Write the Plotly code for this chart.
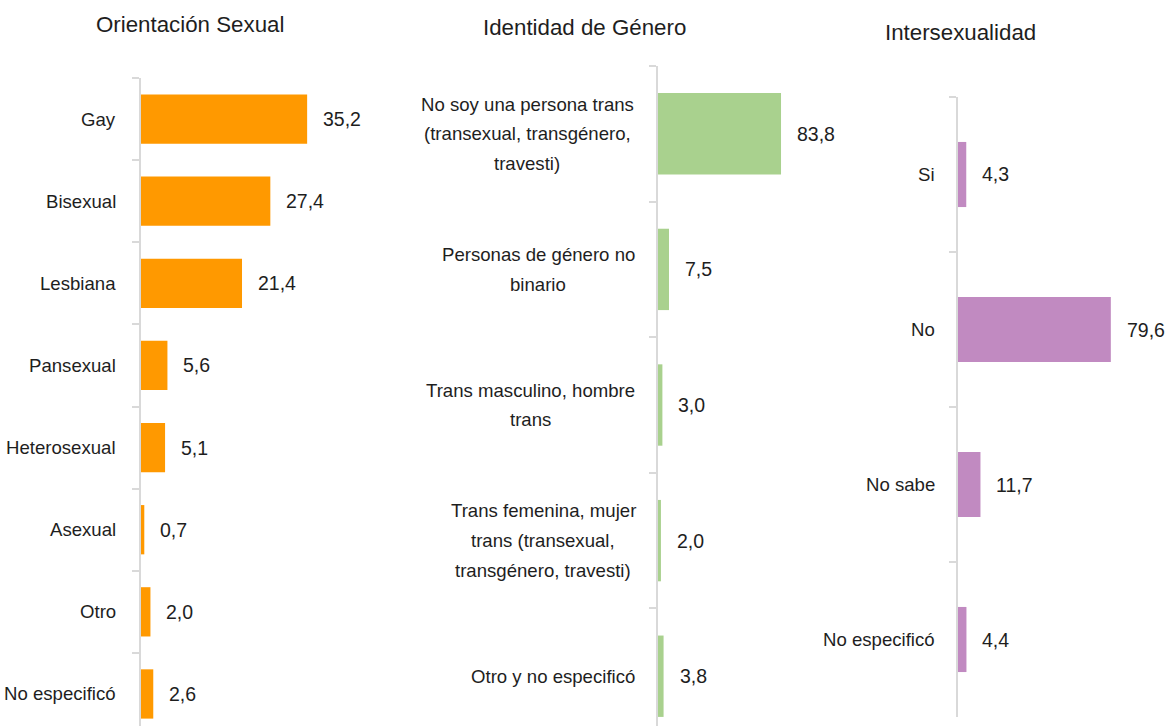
import plotly.graph_objects as go

# ---------------- data ----------------
orient_cats = ["Gay", "Bisexual", "Lesbiana", "Pansexual", "Heterosexual",
               "Asexual", "Otro", "No especificó"]
orient_vals = [35.2, 27.4, 21.4, 5.6, 5.1, 0.7, 2.0, 2.6]

gender_cats = ["No soy una persona trans<br>(transexual, transgénero,<br>travesti)",
               "Personas de género no<br>binario",
               "Trans masculino, hombre<br>trans",
               "Trans femenina, mujer<br>trans (transexual,<br>transgénero, travesti)",
               "Otro y no especificó"]
gender_vals = [83.8, 7.5, 3.0, 2.0, 3.8]

inter_cats = ["Si", "No", "No sabe", "No especificó"]
inter_vals = [4.3, 79.6, 11.7, 4.4]

titles = ["Orientación Sexual", "Identidad de Género", "Intersexualidad"]

# ---------------- style ----------------
W, H = 1169, 726
FONT = "Liberation Sans, Arial, sans-serif"
TXT = "#1e1e1e"
AXC = "#D9D9D9"
LAB_SIZE = 18.6
VAL_SIZE = 19.5
TITLE_SIZE = 22.3
LINE_STEP = 29.8  # px between lines of a wrapped label

# centre offsets (px from axis line) of the wrapped label blocks in panel 2
gender_label_centres = [-131, -120, -128, -115, -105]

panels = [
    dict(cats=orient_cats, vals=orient_vals, color="#FF9900",
         xdom=(141, 380), xmax=239 / 4.72, ydom=(726, 78), yrange=[7.39, -0.5],
         width=0.6, lab_shift=-23, centres=None, title=titles[0], tpos=(190, 25)),
    dict(cats=gender_cats, vals=gender_vals, color="#A9D18E",
         xdom=(658, 830), xmax=172 / 1.468, ydom=(726, 66), yrange=[4.367, -0.5],
         width=0.6, lab_shift=-21, centres=gender_label_centres,
         title=titles[1], tpos=(584, 28)),
    dict(cats=inter_cats, vals=inter_vals, color="#C18AC1",
         xdom=(958, 1140), xmax=182 / 1.92, ydom=(717, 97), yrange=[3.5, -0.5],
         width=0.42, lab_shift=-21, centres=None, title=titles[2], tpos=(960, 32)),
]

fig = go.Figure()
annotations = []
layout = {}

for i, p in enumerate(panels, start=1):
    xa = "x" if i == 1 else f"x{i}"
    ya = "y" if i == 1 else f"y{i}"
    fig.add_trace(go.Bar(
        x=p["vals"], y=p["cats"], orientation="h",
        marker=dict(color=p["color"], line=dict(width=0)),
        width=p["width"], xaxis=xa, yaxis=ya, hoverinfo="skip",
        showlegend=False,
    ))
    xkey = "xaxis" if i == 1 else f"xaxis{i}"
    ykey = "yaxis" if i == 1 else f"yaxis{i}"
    layout[xkey] = dict(domain=[p["xdom"][0] / W, p["xdom"][1] / W],
                        range=[0, p["xmax"]], visible=False, anchor=ya,
                        fixedrange=True)
    layout[ykey] = dict(domain=[1 - p["ydom"][0] / H, 1 - p["ydom"][1] / H],
                        type="category", categoryorder="array",
                        categoryarray=p["cats"], range=p["yrange"],
                        anchor=xa, showline=True, linecolor=AXC, linewidth=1.5,
                        ticks="outside", tickson="boundaries", ticklen=7,
                        tickcolor=AXC, tickwidth=1.5, showticklabels=False,
                        showgrid=False, zeroline=False, fixedrange=True)
    for k, (c, v) in enumerate(zip(p["cats"], p["vals"])):
        if p["centres"] is None:
            annotations.append(dict(
                xref=xa, yref=ya, x=0, y=c, text=c, showarrow=False,
                xanchor="right", yanchor="middle", xshift=p["lab_shift"],
                font=dict(family=FONT, size=LAB_SIZE, color=TXT)))
        else:
            lines = c.split("<br>")
            n = len(lines)
            for j, line in enumerate(lines):
                annotations.append(dict(
                    xref=xa, yref=ya, x=0, y=c, text=line, showarrow=False,
                    xanchor="center", yanchor="middle",
                    xshift=p["centres"][k],
                    yshift=((n - 1) / 2 - j) * LINE_STEP,
                    font=dict(family=FONT, size=LAB_SIZE, color=TXT)))
        annotations.append(dict(
            xref=xa, yref=ya, x=v, y=c, text=f"{v:.1f}".replace(".", ","),
            showarrow=False, xanchor="left", yanchor="middle", xshift=14,
            font=dict(family=FONT, size=VAL_SIZE, color=TXT)))
    annotations.append(dict(
        xref="paper", yref="paper", x=p["tpos"][0] / W, y=1 - p["tpos"][1] / H,
        text=p["title"], showarrow=False, xanchor="center", yanchor="middle",
        font=dict(family=FONT, size=TITLE_SIZE, color=TXT)))

fig.update_layout(
    width=W, height=H,
    margin=dict(l=0, r=0, t=0, b=0),
    paper_bgcolor="white", plot_bgcolor="white",
    font=dict(family=FONT, color=TXT),
    annotations=annotations,
    **layout,
)

fig.write_html("out.html", config={"displayModeBar": False},
               post_script="document.body.style.margin='0px';")
